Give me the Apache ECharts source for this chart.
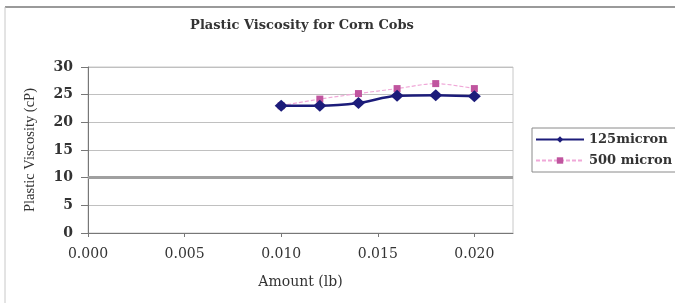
<!DOCTYPE html>
<html><head><meta charset="utf-8">
<script src="https://cdn.jsdelivr.net/npm/echarts@6/dist/echarts.min.js"></script>
<style>html,body{margin:0;padding:0;background:#fff}#c{width:675px;height:303px}</style>
</head><body><div id="c"></div>
<script>
const amounts = [0.010, 0.012, 0.014, 0.016, 0.018, 0.020];
const pv125 = [23, 23, 23.5, 24.8, 24.9, 24.7];
const pv500 = [23, 24.2, 25.2, 26.1, 27, 26.1];
const seriesNames = ['125micron', '500 micron'];
const heavyGrid = 10;

const chart = echarts.init(document.getElementById('c'));
const serif = 'DejaVu Serif';
chart.setOption({
  backgroundColor: '#fff',
  animation: false,
  graphic: [
    {type: 'line', shape: {x1: 5, y1: 7, x2: 675, y2: 7}, style: {stroke: '#9a9a9a', lineWidth: 2}},
    {type: 'line', shape: {x1: 5, y1: 7, x2: 5, y2: 303}, style: {stroke: '#c8c8c8', lineWidth: 1}}
  ],
  title: {
    text: 'Plastic Viscosity for Corn Cobs',
    left: 297, top: 14, textAlign: 'center',
    textStyle: {fontFamily: serif, fontSize: 13, fontWeight: 'bold', color: '#333'}
  },
  legend: {
    orient: 'vertical', left: 532, top: 128,
    borderColor: '#8a8a8a', borderWidth: 1, padding: [4, 4, 4, 3],
    itemWidth: 48, itemHeight: 8, itemGap: 6,
    textStyle: {fontFamily: serif, fontSize: 13, color: '#333', fontWeight: 'bold', lineHeight: 15},
    data: seriesNames
  },
  grid: {left: 88, top: 67, right: 162, bottom: 70, show: true, borderColor: '#c8c8c8', borderWidth: 1},
  xAxis: {
    type: 'value', min: 0, max: 0.022, interval: 0.005,
    name: 'Amount (lb)', nameLocation: 'middle', nameGap: 42,
    nameTextStyle: {fontFamily: serif, fontSize: 14, color: '#333'},
    axisLine: {lineStyle: {color: '#777'}},
    axisTick: {show: true, length: 4, lineStyle: {color: '#777'}},
    splitLine: {show: false},
    axisLabel: {fontFamily: serif, fontSize: 14, color: '#333', margin: 14,
      formatter: v => v.toFixed(3), showMaxLabel: false}
  },
  yAxis: {
    type: 'value', min: 0, max: 30, interval: 5,
    name: 'Plastic Viscosity (cP)', nameLocation: 'middle', nameGap: 50,
    nameTextStyle: {fontFamily: 'Liberation Serif', fontSize: 14.5, color: '#333'},
    axisLine: {show: true, lineStyle: {color: '#777'}},
    axisTick: {show: true, length: 7, lineStyle: {color: '#777'}},
    splitLine: {show: true, lineStyle: {color: '#c0c0c0', width: 1}},
    axisLabel: {fontFamily: serif, fontSize: 14, fontWeight: 'bold', color: '#333', margin: 15}
  },
  series: [
    {
      name: seriesNames[0], type: 'line', smooth: 0.3,
      data: amounts.map((a, i) => [a, pv125[i]]),
      symbol: 'diamond', symbolSize: [13, 12],
      lineStyle: {color: '#1c1c7a', width: 2.5},
      itemStyle: {color: '#1c1c7a'},
      z: 3,
      markLine: {silent: true, symbol: 'none', label: {show: false},
        lineStyle: {color: '#a0a0a0', width: 3, type: 'solid'},
        data: [{yAxis: heavyGrid}]}
    },
    {
      name: seriesNames[1], type: 'line', smooth: 0.3,
      data: amounts.map((a, i) => [a, pv500[i]]),
      symbol: 'rect', symbolSize: 7,
      lineStyle: {color: '#f0a8d8', width: 1.2, type: [4, 2]},
      itemStyle: {color: '#c0559f'},
      z: 2
    }
  ]
});
</script></body></html>
